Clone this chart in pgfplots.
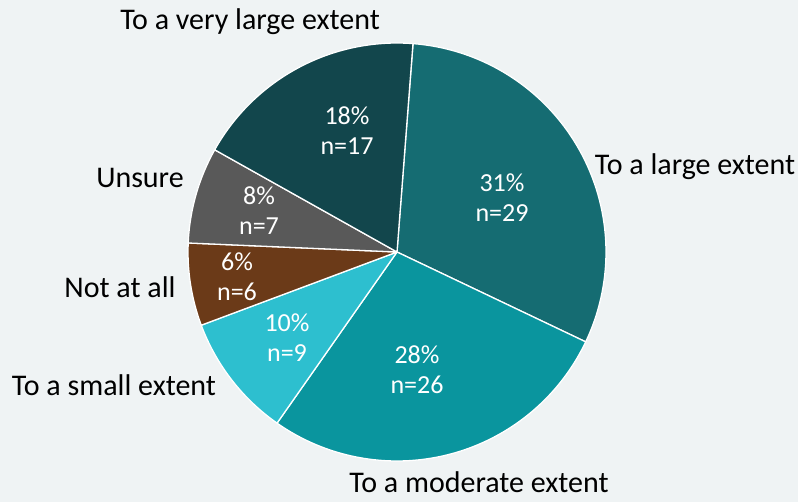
\documentclass[border=0pt]{standalone}
\usepackage{fontspec}
\setmainfont{Carlito}
\usepackage{pgfplots}
\usepackage{pgfplotstable}
\pgfplotsset{compat=1.18}

\definecolor{bgc}{HTML}{EFF3F4}
\definecolor{sl0}{HTML}{156C72}
\definecolor{sl1}{HTML}{0A959E}
\definecolor{sl2}{HTML}{2DBFCF}
\definecolor{sl3}{HTML}{6B3A18}
\definecolor{sl4}{HTML}{595959}
\definecolor{sl5}{HTML}{12464C}

% slices clockwise from the top; ix,iy = inner label, ox,oy = outer label baseline (pixel coordinates)
\pgfplotstableread[col sep=comma]{
label,n,pct,ix,iy,ox,oy
To a large extent,29,31,502,198,695,175
To a moderate extent,26,28,417,370,479,492
To a small extent,9,10,287,338,114,395
Not at all,6,6,237,277,120,298
Unsure,7,8,259,211,140,188
To a very large extent,17,18,347,131,250,30
}\data

\pgfplotstablegetrowsof{\data}
\pgfmathtruncatemacro\nlast{\pgfplotsretval-1}
\xdef\total{0}
\foreach \i in {0,...,\nlast}{%
  \pgfplotstablegetelem{\i}{n}\of\data
  \pgfmathtruncatemacro\t{\total+\pgfplotsretval}%
  \global\let\total\t
}
\xdef\cur{85.6}
\foreach \i in {0,...,\nlast}{%
  \pgfplotstablegetelem{\i}{n}\of\data
  \let\nn\pgfplotsretval
  \pgfmathsetmacro\e{\cur-\nn/\total*360}%
  \expandafter\xdef\csname S\i\endcsname{\cur}%
  \expandafter\xdef\csname E\i\endcsname{\e}%
  \expandafter\xdef\csname N\i\endcsname{\nn}%
  \global\let\cur\e
  \pgfplotstablegetelem{\i}{pct}\of\data
  \expandafter\xdef\csname P\i\endcsname{\pgfplotsretval}%
  \pgfplotstablegetelem{\i}{label}\of\data
  \expandafter\global\expandafter\let\csname L\i\endcsname\pgfplotsretval
  \pgfplotstablegetelem{\i}{ix}\of\data
  \expandafter\xdef\csname IX\i\endcsname{\pgfplotsretval}%
  \pgfplotstablegetelem{\i}{iy}\of\data
  \expandafter\xdef\csname IY\i\endcsname{\pgfplotsretval}%
  \pgfplotstablegetelem{\i}{ox}\of\data
  \expandafter\xdef\csname OX\i\endcsname{\pgfplotsretval}%
  \pgfplotstablegetelem{\i}{oy}\of\data
  \expandafter\xdef\csname OY\i\endcsname{\pgfplotsretval}%
}

\begin{document}
\begin{tikzpicture}
\begin{axis}[
  x=1bp, y=1bp, scale only axis,
  xmin=0, xmax=798, ymin=0, ymax=502, y dir=reverse,
  hide axis, clip=false,
]
\fill[bgc] (axis cs:0,0) rectangle (axis cs:798,502);
\pgfplotsinvokeforeach{0,...,5}{
  \fill[sl#1, draw=white, line width=1.3bp, line join=round]
    (axis cs:397,252) -- ++(\csname S#1\endcsname:209bp)
    arc[start angle=\csname S#1\endcsname, end angle=\csname E#1\endcsname, radius=209bp] -- cycle;
}
\pgfplotsinvokeforeach{0,...,5}{
  \node[white, align=center, inner sep=0pt, font=\fontsize{26bp}{30bp}\selectfont]
    at (axis cs:\csname IX#1\endcsname,\csname IY#1\endcsname)
    {\csname P#1\endcsname\%\\n=\csname N#1\endcsname};
  \node[black, inner sep=0pt, anchor=base, font=\fontsize{30bp}{34bp}\selectfont]
    at (axis cs:\csname OX#1\endcsname,\csname OY#1\endcsname)
    {\csname L#1\endcsname};
}
\end{axis}
\end{tikzpicture}
\end{document}
